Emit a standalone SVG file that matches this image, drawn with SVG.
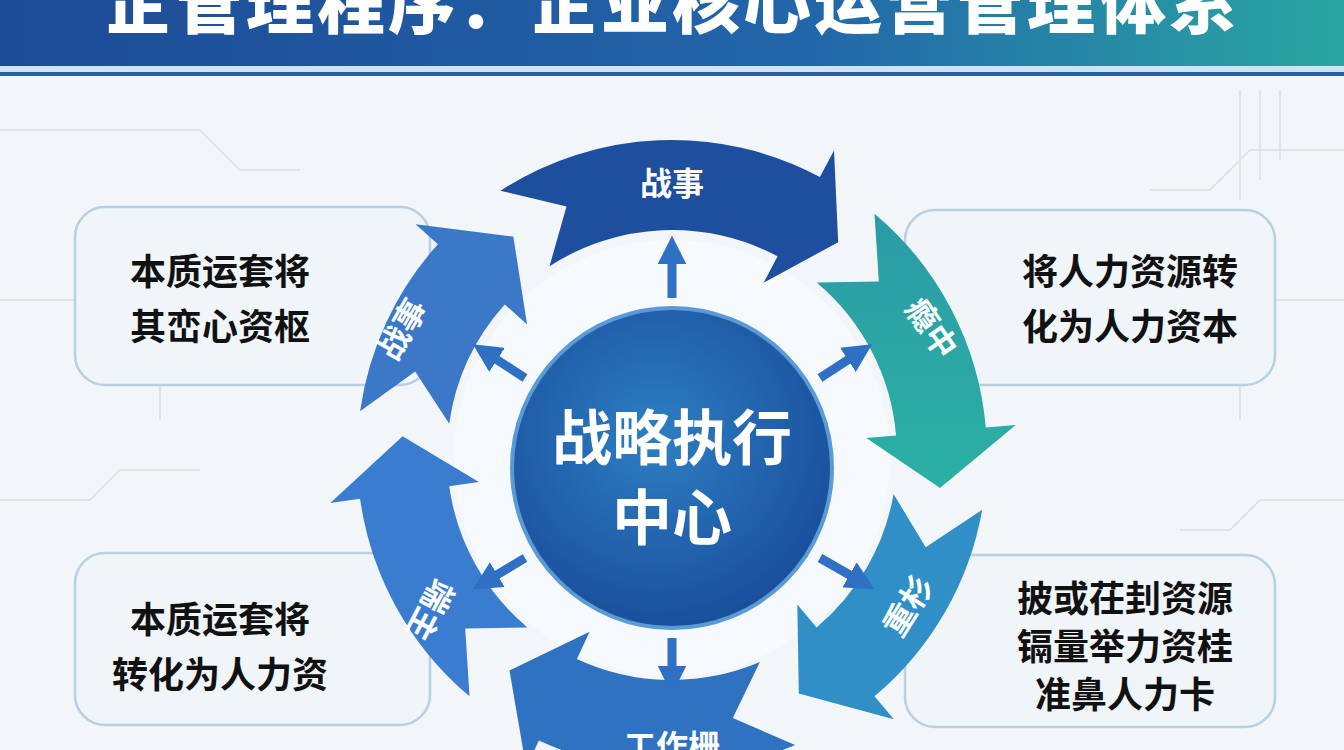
<svg xmlns="http://www.w3.org/2000/svg" width="1344" height="750" viewBox="0 0 1344 750">
<defs>
<linearGradient id="tg" x1="0" x2="1"><stop offset="0" stop-color="#1d4a96"/><stop offset="0.6" stop-color="#2266aa"/><stop offset="1" stop-color="#2aa6a2"/></linearGradient>
<radialGradient id="cg" cx="0.45" cy="0.4" r="0.6"><stop offset="0" stop-color="#2d7fc4"/><stop offset="1" stop-color="#1a4f9c"/></radialGradient>
<linearGradient id="g2" x1="0" y1="0" x2="0" y2="1"><stop offset="0" stop-color="#2a9ca6"/><stop offset="1" stop-color="#2bb0a4"/></linearGradient>
<marker id="ah" viewBox="0 0 10 10" refX="5" refY="5" markerWidth="3.2" markerHeight="3.2" orient="auto"><path d="M0,0 L10,5 L0,10 Z" fill="#2f6fc4"/></marker>
</defs>
<style>
.box{fill:#f0f5fa;stroke:#b8cfe4;stroke-width:2.5}
.bt{font-family:"Noto Sans CJK SC","Noto Sans",sans-serif;font-weight:700;font-size:36px;fill:#111;text-anchor:middle}
.lab{font-family:"Noto Sans CJK SC",sans-serif;font-weight:700;font-size:32px;fill:#fff;text-anchor:middle}
.sa{stroke:#2f6fc4;stroke-width:9;fill:none;marker-end:url(#ah)}
.circ{stroke:#d5e0ea;stroke-width:1.5;fill:none}
</style>
<rect width="1344" height="750" fill="#f3f6f9"/>
<g class="circ">
<path d="M0,130 H200 L240,170 H300"/><path d="M0,300 H120 L160,340 V420"/><path d="M0,500 H90 L120,470 H200"/>
<path d="M1344,150 H1250 L1210,190 H1150"/><path d="M1344,300 H1270 L1240,330 V420"/><path d="M1344,500 H1260 L1230,530 H1180"/>
<path d="M1240,90 V200"/><path d="M1260,90 V180"/><path d="M1280,90 V160"/>
</g>
<g id="title">
<rect x="0" y="0" width="1344" height="66" fill="url(#tg)"/>
<rect x="0" y="66" width="1344" height="6" fill="#cfe3f3"/>
<rect x="0" y="72" width="1344" height="4" fill="#2a5d9c"/>
<text x="672" y="28" font-family="Noto Sans CJK SC,sans-serif" font-weight="900" font-size="68" fill="#fff" text-anchor="middle" letter-spacing="3">企管理程序：企业核心运营管理体系</text>
</g>
<g id="box-lt"><rect class="box" x="75" y="207" width="355" height="178" rx="30"/><text class="bt" x="220" y="285">本质运套将</text><text class="bt" x="220" y="340">其峦心资枢</text></g>
<g id="box-lb"><rect class="box" x="75" y="553" width="355" height="172" rx="30"/><text class="bt" x="220" y="633">本质运套将</text><text class="bt" x="220" y="688">转化为人力资</text></g>
<g id="box-rt"><rect class="box" x="905" y="210" width="370" height="175" rx="30"/><text class="bt" x="1130" y="285">将人力资源转</text><text class="bt" x="1130" y="340">化为人力资本</text></g>
<g id="box-rb"><rect class="box" x="905" y="555" width="370" height="172" rx="30"/><text class="bt" x="1125" y="612" font-size="31">披或茌刲资源</text><text class="bt" x="1125" y="660" font-size="31">镉量举力资桂</text><text class="bt" x="1125" y="708" font-size="31">准鼻人力卡</text></g>
<g id="center-bg"><circle cx="672" cy="458" r="218" fill="#f7fafc"/></g>
<g id="ring">
<path id="s1" fill="#1e4e9e" d="M500.5,190.8 A315,315 0 0 1 819.9,176.9 L834.0,150.4 L838.2,242.2 L763.6,282.8 L777.6,256.3 A225,225 0 0 0 549.5,266.3 L566.5,206.5 Z"/>
<path id="s2" fill="url(#g2)" d="M874.5,213.7 A315,315 0 0 1 985.8,427.5 L1015.7,424.9 L940.0,487.9 L866.3,438.0 L896.1,435.4 A225,225 0 0 0 816.6,282.6 L878.8,281.4 Z"/>
<path id="s3" fill="#2f8fc6" d="M982.2,509.7 A315,315 0 0 1 874.5,696.3 L893.8,719.3 L798.8,693.4 L797.3,604.4 L816.6,627.4 A225,225 0 0 0 893.6,494.1 L925.7,547.3 Z"/>
<path id="s4" fill="#2f72c2" d="M795.1,745.0 A315,315 0 0 1 538.9,740.5 L526.2,767.7 L509.5,670.6 L589.6,631.7 L576.9,658.9 A225,225 0 0 0 759.9,662.1 L732.8,718.1 Z"/>
<path id="s5" fill="#3a7cd0" d="M469.5,696.3 A315,315 0 0 1 360.1,498.8 L330.3,503.0 L402.6,436.2 L478.9,482.1 L449.2,486.3 A225,225 0 0 0 527.4,627.4 L465.2,628.6 Z"/>
<path id="s6" fill="#3b78c8" d="M360.1,411.2 A315,315 0 0 1 437.9,244.2 L415.6,224.2 L513.3,236.6 L527.1,324.5 L504.8,304.5 A225,225 0 0 0 449.2,423.7 L415.2,371.6 Z"/>
<text class="lab" x="672" y="195">战事</text>
<text class="lab" transform="translate(922,335) rotate(55)">瘾中</text>
<text class="lab" transform="translate(918,612) rotate(-58)">重杉</text>
<text class="lab" x="672" y="758">工作栅</text>
<text class="lab" transform="translate(420,605) rotate(118)">端主</text>
<text class="lab" transform="translate(412,335) rotate(-60)">战事</text>
</g>
<g id="center">
<circle cx="672" cy="468" r="160" fill="url(#cg)" stroke="#5a9bd6" stroke-width="4"/>
<text x="672" y="460" font-family="Noto Sans CJK SC,sans-serif" font-weight="700" font-size="60" fill="#fff" text-anchor="middle">战略执行</text>
<text x="672" y="540" font-family="Noto Sans CJK SC,sans-serif" font-weight="700" font-size="60" fill="#fff" text-anchor="middle">中心</text>
</g>
<g id="connectors">
<path class="sa" d="M672,298 V250"/>
<path class="sa" d="M525,378 L485,352"/>
<path class="sa" d="M820,378 L860,352"/>
<path class="sa" d="M525,558 L485,582"/>
<path class="sa" d="M820,558 L862,582"/>
<path class="sa" d="M672,638 V680"/>
</g>
</svg>
